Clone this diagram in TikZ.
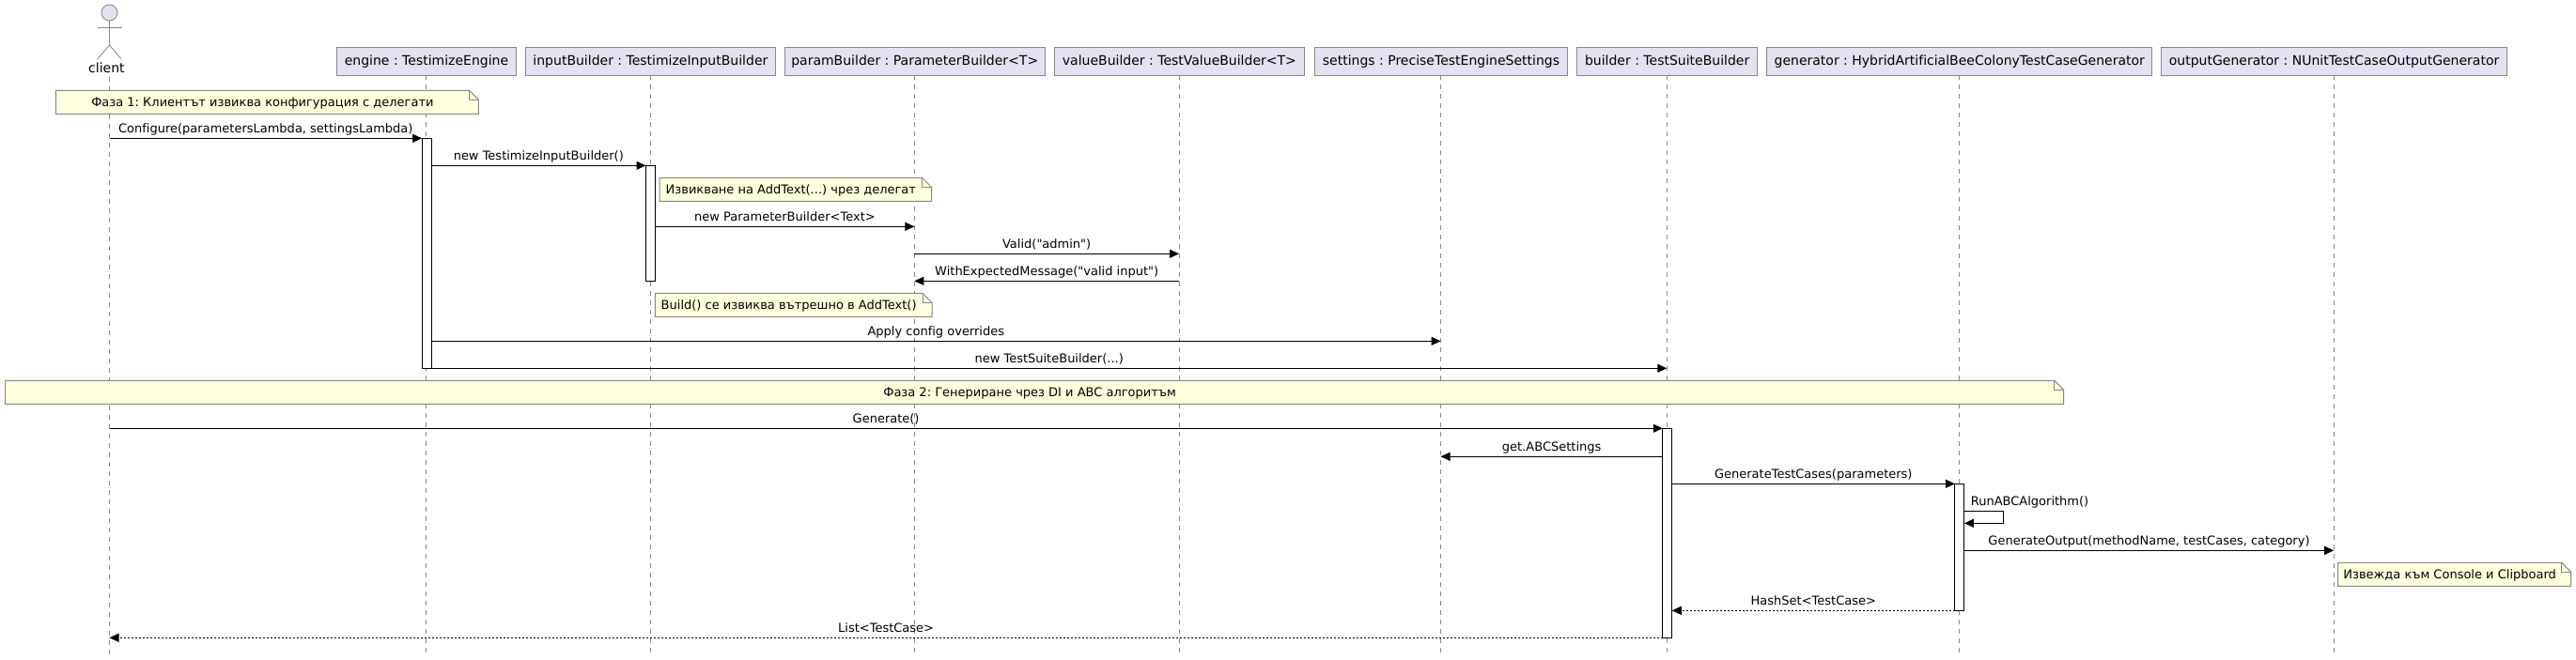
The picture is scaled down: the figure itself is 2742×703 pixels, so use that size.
\documentclass[tikz,border=0pt]{standalone}
\usepackage{fontspec}
\newfontfamily\seqfont{DejaVu Sans}[Ligatures=NoCommon]
\usetikzlibrary{arrows.meta,calc}
\definecolor{partfill}{HTML}{E2E2F0}
\definecolor{notefill}{HTML}{FEFFDD}
\definecolor{seqedge}{HTML}{888888}
\tikzset{
  partbox/.style={draw=seqedge,fill=partfill,line width=1pt,inner sep=0pt,outer sep=0pt,minimum height=30pt,text height=0pt,text depth=0pt},
  lifeline/.style={draw=seqedge,line width=0.8pt,dash pattern=on 5pt off 5pt},
  actorline/.style={draw=seqedge,line width=0.8pt},
  barbox/.style={draw=black,fill=white,line width=1pt,inner sep=0pt,outer sep=0pt,minimum width=10pt},
  notebody/.style={draw=seqedge,fill=notefill,line width=1pt,line join=miter},
  notefold/.style={draw=seqedge,line width=1pt},
  seqtext/.style={inner sep=0pt,outer sep=0pt,anchor=base,font=\seqfont\fontsize{13}{15}\selectfont\frenchspacing},
  parttext/.style={inner sep=0pt,outer sep=0pt,anchor=base,font=\seqfont\fontsize{14}{16}\selectfont\frenchspacing},
  msgline/.style={draw=black,line width=1pt,-{Triangle[length=10pt,width=9pt]}},
  retline/.style={msgline,dash pattern=on 2pt off 2pt,-{Triangle[length=10pt,width=9pt]}},
}
% participant: name, left, right, text
\newcommand{\seqpart}[4]{%
  \node[partbox,minimum width={(#3-#2)*1pt}] (#1) at ({(#2+#3)/2},65.3) {};
  \node[parttext] (#1Text) at ({(#2+#3)/2},69.7) {#4};
  \coordinate (#1Line) at ($(#1.south)+(-0.4,0)$);
  \coordinate (#1End) at (#1Line |- lifeEnd);
  \draw[lifeline] (#1Line) -- (#1End);
}
% note: name, x1, y1, x2, y2, text
\newcommand{\seqnote}[6]{%
  \draw[notebody] (#2,#3) coordinate (#1A) -- (#4-10,#3) -- (#4,#3+10) -- (#4,#5) -- (#2,#5) -- cycle;
  \draw[notefold] (#4-10,#3) -- (#4-10,#3+10) -- (#4,#3+10);
  \node[seqtext] (#1) at ({(#2+#4-10)/2},#5-8) {#6};
}
% activation bar: name, owner, y1, y2
\newcommand{\seqbar}[4]{%
  \coordinate (#1Top) at (0,#3);
  \node[barbox,anchor=north,minimum height={(#4-#3)*1pt}] (#1) at ($(#2 |- #1Top)+(0.5,0)$) {};
}
% message: style, name, from, to, y, text
\newcommand{\seqmsg}[6]{%
  \coordinate (#2Row) at (0,#5);
  \coordinate (#2A) at (#3 |- #2Row);
  \coordinate (#2B) at (#4 |- #2Row);
  \draw[#1] (#2A) -- (#2B);
  \node[seqtext] (#2Label) at ($(#2A)!0.5!(#2B)+(0,-5.7)$) {#6};
}
\begin{document}
\begin{tikzpicture}[x=1pt,y=-1pt]
\useasboundingbox (0,0) rectangle (2742,703);
\coordinate (lifeEnd) at (0,696.7);
% actor
\node[circle,draw=seqedge,fill=partfill,line width=0.8pt,minimum size=17pt,inner sep=0pt,outer sep=0pt] (clientHead) at (116.5,13.5) {};
\coordinate (clientHip) at (116.5,48);
\coordinate (clientArmL) at (103.5,29.3);
\coordinate (clientArmR) at (129.5,29.3);
\coordinate (clientFootL) at (103.5,63.3);
\coordinate (clientFootR) at (129.5,63.3);
\draw[actorline] (clientHead.south) -- (clientHip);
\draw[actorline] (clientArmL) -- (clientArmR);
\draw[actorline] (clientFootL) -- (clientHip) -- (clientFootR);
\node[parttext] (clientText) at (113.4,77.8) {client};
\coordinate (clientTop) at (116.5,82);
\coordinate (clientEnd) at (116.5,696.7);
\draw[lifeline] (clientTop) -- (clientEnd);
% participants
\seqpart{engine}{358.5}{549.5}{engine : TestimizeEngine}
\seqpart{input}{559.4}{825.4}{inputBuilder : TestimizeInputBuilder}
\seqpart{param}{835}{1112.5}{paramBuilder : ParameterBuilder<T>}
\seqpart{value}{1122.3}{1388.5}{valueBuilder : TestValueBuilder<T>}
\seqpart{settings}{1399.5}{1668.4}{settings : PreciseTestEngineSettings}
\seqpart{builder}{1678.5}{1870.8}{builder : TestSuiteBuilder}
\seqpart{generator}{1880.9}{2290.6}{generator : HybridArtificialBeeColonyTestCaseGenerator}
\seqpart{output}{2300.5}{2668.7}{outputGenerator : NUnitTestCaseOutputGenerator}
% activation bars
\seqbar{engineBar}{engineLine}{147.3}{392.3}
\seqbar{inputBar}{inputLine}{176.3}{299.3}
\seqbar{builderBar}{builderLine}{456.3}{679.3}
\seqbar{generatorBar}{generatorLine}{515.3}{650.3}
% notes
\seqnote{noteA}{59.4}{96.3}{509.4}{121.3}{Фаза 1: Клиентът извиква конфигурация с делегати}
\seqnote{noteB}{702.2}{189.3}{991.5}{214.3}{Извикване на AddText(...) чрез делегат}
\seqnote{noteC}{697.3}{312.3}{992}{337.3}{Build() се извиква вътрешно в AddText()}
\seqnote{noteD}{5.5}{405.3}{2196.7}{430.3}{Фаза 2: Генериране чрез DI и ABC алгоритъм}
\seqnote{noteE}{2488.7}{599.3}{2736.6}{624.3}{Извежда към Console и Clipboard}
% messages
\seqmsg{msgline}{mA}{clientHead.south}{engineBar.west}{147.3}{Configure(parametersLambda, settingsLambda)}
\seqmsg{msgline}{mB}{engineBar.east}{inputBar.west}{176.3}{new TestimizeInputBuilder()}
\seqmsg{msgline}{mC}{inputBar.east}{paramLine}{241.3}{new ParameterBuilder<Text>}
\seqmsg{msgline}{mD}{paramLine}{valueLine}{270.3}{Valid("admin")}
\seqmsg{msgline}{mE}{valueLine}{paramLine}{299.3}{WithExpectedMessage("valid input")}
\seqmsg{msgline}{mF}{engineBar.east}{settingsLine}{363.3}{Apply config overrides}
\seqmsg{msgline}{mG}{engineBar.east}{builderLine}{392.3}{new TestSuiteBuilder(...)}
\seqmsg{msgline}{mH}{clientHead.south}{builderBar.west}{456.3}{Generate()}
\seqmsg{msgline}{mI}{builderBar.west}{settingsLine}{486.3}{get.ABCSettings}
\seqmsg{msgline}{mJ}{builderBar.east}{generatorBar.west}{515.3}{GenerateTestCases(parameters)}
% self message
\coordinate (selfTop) at (0,544.3);
\coordinate (selfBot) at (0,557.3);
\coordinate (selfA) at (generatorBar.east |- selfTop);
\coordinate (selfB) at (generatorBar.east |- selfBot);
\draw[msgline] (selfA) -- ++(42,0) -- ++(0,13) -- (selfB);
\node[seqtext,anchor=base west] (selfLabel) at ($(selfA)+(7,-5.7)$) {RunABCAlgorithm()};
\seqmsg{msgline}{mK}{generatorBar.east}{outputLine}{586.3}{GenerateOutput(methodName, testCases, category)}
\seqmsg{retline}{mL}{generatorBar.west}{builderBar.east}{650.3}{HashSet<TestCase>}
\seqmsg{retline}{mM}{builderBar.west}{clientHead.south}{679.3}{List<TestCase>}
\end{tikzpicture}
\end{document}
